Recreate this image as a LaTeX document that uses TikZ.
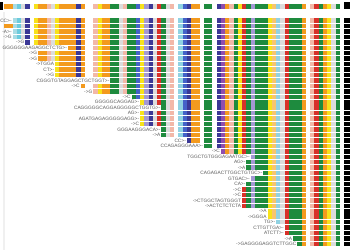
\documentclass[tikz,border=0pt]{standalone}
\usepackage{fontspec}
\setmainfont{Liberation Sans}
\definecolor{cO}{HTML}{F39A1E}
\definecolor{cG}{HTML}{1E8B3E}
\definecolor{cIN}{HTML}{3B3896}
\definecolor{cRD}{HTML}{D8312A}
\definecolor{cYE}{HTML}{F7E21B}
\definecolor{cLP}{HTML}{F2B8A8}
\definecolor{cLB}{HTML}{90D2E2}
\definecolor{cLC}{HTML}{A9DCE4}
\definecolor{cCY}{HTML}{6CCBDD}
\definecolor{cLV}{HTML}{A398D4}
\definecolor{cLG}{HTML}{DCDCDC}
\definecolor{cBL}{HTML}{4562C8}
\definecolor{cPU}{HTML}{8F4DAE}
\definecolor{cLO}{HTML}{F7C56E}
\definecolor{cW}{HTML}{FFFFFF}
\def\collist{O,O,LC,CY,LG,IN,W,YE,O,O,LP,LG,YE,O,O,O,O,IN,O,W,W,LP,YE,O,O,G,G,LG,LP,G,G,BL,YE,LV,IN,LG,RD,G,LG,LP,W,LB,BL,IN,O,O,W,G,G,W,IN,PU,O,LP,G,YE,RD,G,LV,G,G,G,YE,LO,LB,LG,RD,G,G,G,O,W,LP,RD,G,O,YE,LG,G,W}
\tikzset{lbl/.style={anchor=east,inner sep=0pt,text=black!65,font=\fontsize{4.8}{5}\selectfont}}
\begin{document}
\begin{tikzpicture}[x=1pt,y=-1pt]
\useasboundingbox (0,0) rectangle (350,250);
\fill[white] (0,0) rectangle (350,250);
% faint left border
\fill[black!6] (3,12) rectangle (5,250);
% header bar
\fill[black] (0,2) rectangle (3,10);
\foreach \col [count=\c from 0] in \collist {
  \fill[c\col] ({4+4.25*\c},3.5) rectangle ++(4.35,5);
}
\fill[black] (344,2) rectangle (350,9);
% alignment rows
\foreach \s/\lab [count=\r] in {
 2/{CC>-}, 0/{}, 2/{-A>-}, 2/{->G}, 5/{->G},
 15/{GGGGGGAAGAGGCTCTG>-}, 8/{->G}, 8/{->G}, 12/{->TGGA}, 12/{CT>-},
 12/{->G}, 25/{CGGGTGTAGGAGCTGCTGGT>-}, 18/{->C}, 21/{->G}, 30/{->C},
 32/{GGGGGCAGGAG>-}, 37/{CAGGGGGCAGGAGGGGGCTGGTG>-}, 32/{AG>-}, 32/{AGATGAGAGGGGGAGG>-}, 32/{->C},
 37/{GGGAAGGGACA>-}, 37/{->A}, 43/{CC>-}, 47/{CCAGAGGGAAA>-}, 51/{->C},
 58/{TGGCTGTGGGAGAATGC>-}, 57/{AG>-}, 57/{->A}, 61/{CAGAGACTTGGCTGTGC>-}, 58/{GTGAC>-},
 57/{CA>-}, 56/{->C}, 56/{->C}, 56/{->CTGGCTAGTGGGT}, 56/{->ACTCTCTCTA},
 62/{->A}, 62/{->GGGA}, 64/{TG>-}, 66/{CTTGTTGA>-}, 66/{ATCTT>-},
 68/{->A}, 69/{->GAGGGGAGGTCTTGGC}}{
  \pgfmathsetmacro{\yy}{20.5+(\r-1)*5.45}
  \foreach \col [count=\c from 0] in \collist {
    \ifnum\c<\s\relax\else
      \fill[c\col] ({4+4.25*\c},{\yy-2.25}) rectangle ++(4.35,4.5);
    \fi
  }
  \fill[black] (344,{\yy-2.25}) rectangle ++(6,4.5);
  \node[lbl] (l\r) at ({4+4.25*\s-0.7},\yy) {\lab};
}
\end{tikzpicture}
\end{document}
